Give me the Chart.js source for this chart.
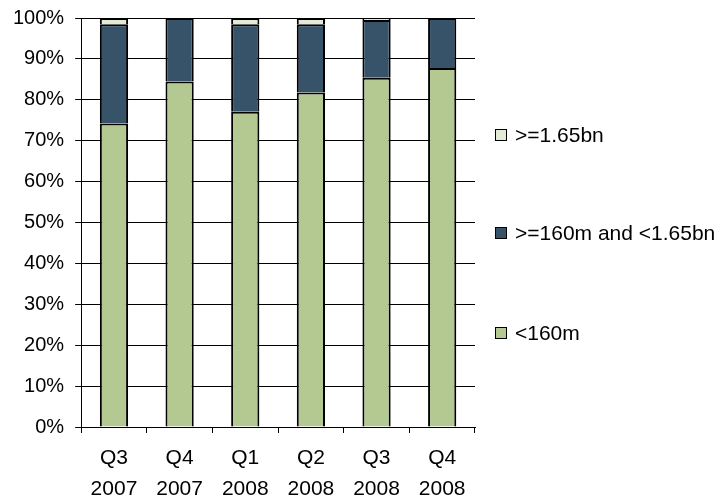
<!DOCTYPE html>
<html>
<head>
<meta charset="utf-8">
<script src="https://cdn.jsdelivr.net/npm/chart.js@4/dist/chart.umd.min.js"></script>
<style>
  html, body { margin: 0; padding: 0; background: #fff; }
  #wrap { position: relative; width: 718px; height: 499px; }
  #legend { position: absolute; left: 495px; top: 0; font-family: "Liberation Sans", Arial, sans-serif; font-size: 21px; color: #000; }
  .item { position: absolute; left: 0; white-space: nowrap; height: 24px; line-height: 24px; }
  .box { position: absolute; left: 0; top: 6px; width: 10px; height: 10px; border: 1px solid #000; }
  .txt { position: absolute; left: 20px; top: 0; }
</style>
</head>
<body>
<div id="wrap">
  <canvas id="c" width="718" height="499"></canvas>
  <div id="legend"></div>
</div>
<script>
const categories = [["Q3","2007"],["Q4","2007"],["Q1","2008"],["Q2","2008"],["Q3","2008"],["Q4","2008"]];
const seriesNames = ["<160m", ">=160m and <1.65bn", ">=1.65bn"];
const under160m = [74.2, 84.5, 77.1, 81.8, 85.4, 87.8];
const mid160mTo165bn = [24.3, 15.5, 21.4, 16.7, 14.1, 12.2];
const over165bn = [1.5, 0, 1.5, 1.5, 0.5, 0];
const seriesColors = ["#b3c991", "#36536a", "#e3ebd6"];

const fontFamily = "'Liberation Sans', Arial, sans-serif";
Chart.defaults.font.family = fontFamily;
Chart.defaults.color = "#000";

const seriesData = [under160m, mid160mTo165bn, over165bn];
const datasets = seriesNames.map((name, i) => ({
  label: name,
  data: seriesData[i],
  backgroundColor: seriesColors[i],
  borderColor: "#000",
  borderWidth: { top: 2, bottom: 0, left: 2, right: 2 },
  borderSkipped: false,
  inflateAmount: 0,
  categoryPercentage: 1.0,
  barPercentage: 0.43
}));

const htmlLegend = {
  id: "htmlLegend",
  afterUpdate(chart) {
    const el = document.getElementById("legend");
    el.innerHTML = "";
    const items = chart.options.plugins.legend.labels.generateLabels(chart).slice().reverse();
    const tops = [123, 221, 321];
    items.forEach((it, k) => {
      const d = document.createElement("div");
      d.className = "item";
      d.style.top = tops[k] + "px";
      const b = document.createElement("span");
      b.className = "box";
      b.style.background = it.fillStyle;
      const t = document.createElement("span");
      t.className = "txt";
      t.textContent = it.text;
      d.appendChild(b); d.appendChild(t);
      el.appendChild(d);
    });
  }
};

new Chart(document.getElementById("c"), {
  type: "bar",
  data: { labels: categories, datasets },
  plugins: [htmlLegend],
  options: {
    responsive: false,
    animation: false,
    layout: { padding: { left: 2, right: 243, top: 18, bottom: 0 } },
    plugins: { legend: { display: false }, tooltip: { enabled: false } },
    scales: {
      x: {
        stacked: true,
        grid: { drawOnChartArea: false, drawTicks: true, tickLength: 6, color: "#000", offset: true },
        border: { color: "#000", width: 1 },
        ticks: { font: { size: 21, lineHeight: 1.5 }, padding: 9, color: "#000", maxRotation: 0 },
        afterFit: (s) => { s.height = 72; }
      },
      y: {
        stacked: true,
        min: 0, max: 100,
        grid: { color: "#000", lineWidth: 1, tickLength: 6 },
        border: { color: "#000", width: 1 },
        ticks: { stepSize: 10, font: { size: 20 }, padding: 11, color: "#000", callback: v => v + "%" },
        afterFit: (s) => { s.paddingTop = 0; s.paddingBottom = 0; }
      }
    }
  }
});
</script>
</body>
</html>
